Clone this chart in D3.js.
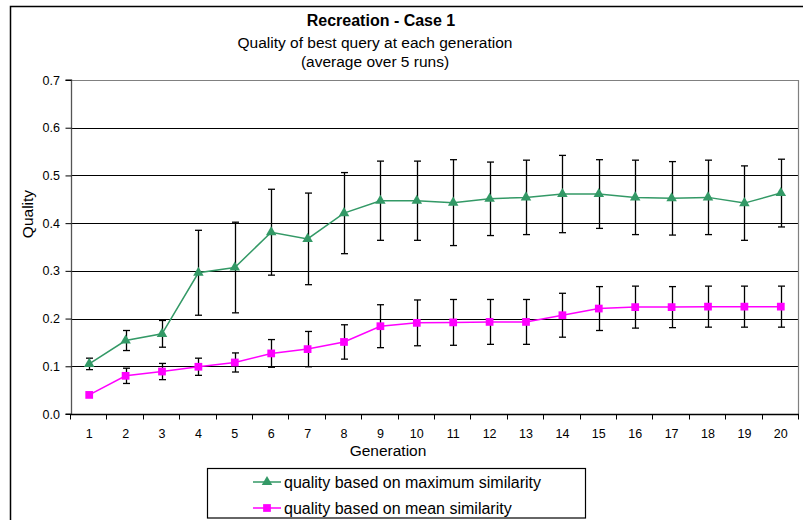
<!DOCTYPE html>
<html>
<head>
<meta charset="utf-8">
<script src="https://cdn.jsdelivr.net/npm/d3@7/dist/d3.min.js"></script>
<style>
  html, body { margin: 0; padding: 0; background: #fff; }
  svg { display: block; font-family: "Liberation Sans", Arial, sans-serif; }
</style>
</head>
<body>
<svg id="chart" width="803" height="520"></svg>
<script>
// Generations on the x axis
const generations = ["1","2","3","4","5","6","7","8","9","10","11","12","13","14","15","16","17","18","19","20"];

// Quality based on maximum similarity (mean over 5 runs) and its error
const maxQuality = [0.105, 0.154, 0.168, 0.296, 0.307, 0.381, 0.367, 0.421, 0.447, 0.447,
                    0.443, 0.451, 0.454, 0.461, 0.461, 0.454, 0.452, 0.454, 0.442, 0.463];
const maxError   = [0.012, 0.021, 0.028, 0.089, 0.095, 0.090, 0.096, 0.085, 0.083, 0.083,
                    0.090, 0.077, 0.078, 0.081, 0.072, 0.078, 0.077, 0.078, 0.078, 0.071];

// Quality based on mean similarity (mean over 5 runs) and its error
const meanQuality = [0.040, 0.080, 0.089, 0.099, 0.108, 0.127, 0.136, 0.151, 0.184, 0.191,
                     0.192, 0.193, 0.193, 0.207, 0.221, 0.224, 0.224, 0.225, 0.225, 0.225];
const meanError   = [0.000, 0.016, 0.017, 0.018, 0.020, 0.029, 0.037, 0.036, 0.045, 0.048,
                     0.048, 0.047, 0.047, 0.046, 0.046, 0.044, 0.043, 0.043, 0.043, 0.043];

// Y axis tick values
const yTicks = [0.0, 0.1, 0.2, 0.3, 0.4, 0.5, 0.6, 0.7];

const titleLines = ["Recreation - Case 1", "Quality of best query at each generation", "(average over 5 runs)"];
const seriesNames = ["quality based on maximum similarity", "quality based on mean similarity"];

const GREEN = "#339966";
const MAGENTA = "#ff00ff";

const svg = d3.select("#chart");

// Chart area frame
svg.append("rect")
  .attr("x", 10.5).attr("y", 6.5)
  .attr("width", 820).attr("height", 540)
  .attr("fill", "none").attr("stroke", "#000").attr("stroke-width", 1.5);

// Titles
const titleX = [381, 375, 375];
const titleY = [26, 48, 66.5];
titleLines.forEach((t, i) => {
  svg.append("text")
    .attr("x", titleX[i]).attr("y", titleY[i])
    .attr("text-anchor", "middle")
    .attr("font-size", i === 0 ? 16 : 15.5)
    .attr("font-weight", i === 0 ? "bold" : "normal")
    .attr("fill", "#000")
    .text(t);
});

// Plot area
const plot = { left: 71, right: 799, top: 80, bottom: 414 };

const x = d3.scaleBand().domain(generations).range([plot.left, plot.right]);
const y = d3.scaleLinear().domain([0, 0.7]).range([plot.bottom, plot.top]);

// Horizontal gridlines
svg.append("g")
  .selectAll("line")
  .data(yTicks.filter(v => v > 0 && v < 0.7))
  .join("line")
  .attr("x1", plot.left).attr("x2", plot.right)
  .attr("y1", d => Math.round(y(d)) + 0.5).attr("y2", d => Math.round(y(d)) + 0.5)
  .attr("stroke", "#000").attr("stroke-width", 1);

// Plot area border (top and right)
svg.append("path")
  .attr("d", `M${plot.left},${plot.top + 0.5}H${plot.right - 0.5}V${plot.bottom}`)
  .attr("fill", "none").attr("stroke", "#808080").attr("stroke-width", 1.2);

// Y axis
const yAxis = svg.append("g")
  .attr("transform", `translate(${plot.left + 0.5},0)`)
  .call(d3.axisLeft(y).tickValues(yTicks).tickFormat(d3.format(".1f")).tickSize(6).tickPadding(5.5));
yAxis.select(".domain").attr("stroke", "#555").attr("stroke-width", 1.3).attr("d", `M-6,${y(0.7)}H0V${y(0)}H-6`);
yAxis.selectAll(".tick line").attr("stroke", "#000");
yAxis.selectAll(".tick text").attr("font-size", 12.5).attr("fill", "#000")
  .attr("font-family", "'Liberation Sans', Arial, sans-serif");

// X axis: labels centred in each category, tick marks between categories
const xAxis = svg.append("g")
  .attr("transform", `translate(0,${plot.bottom + 0.5})`)
  .call(d3.axisBottom(x).tickSize(0).tickPadding(14.5));
xAxis.select(".domain").attr("stroke", "#000").attr("stroke-width", 1.3)
  .attr("d", `M${plot.left},0H${plot.right}`);
xAxis.selectAll(".tick text").attr("font-size", 12.5).attr("fill", "#000")
  .attr("font-family", "'Liberation Sans', Arial, sans-serif");
const boundaries = generations.map(g => x(g)).concat([x.range()[1]]);
xAxis.append("g")
  .selectAll("line")
  .data(boundaries)
  .join("line")
  .attr("x1", d => Math.round(d) - 0.5).attr("x2", d => Math.round(d) - 0.5)
  .attr("y1", 0).attr("y2", 5)
  .attr("stroke", "#000").attr("stroke-width", 1);

// Axis titles
svg.append("text")
  .attr("x", 388).attr("y", 456)
  .attr("text-anchor", "middle").attr("font-size", 15.5).attr("fill", "#000")
  .text("Generation");
svg.append("text")
  .attr("transform", "translate(32.5,214) rotate(-90)")
  .attr("text-anchor", "middle").attr("font-size", 15.5).attr("fill", "#000")
  .text("Quality");

const cx = g => x(g) + x.bandwidth() / 2;

function drawSeries(values, errors, color, symbolType, symbolSize) {
  const data = generations.map((g, i) => ({ g, v: values[i], e: errors[i] }));
  const g = svg.append("g");

  // Error bars
  const eb = g.append("g").attr("stroke", "#000").attr("stroke-width", 1.3);
  data.filter(d => d.e > 0).forEach(d => {
    const xc = Math.round(cx(d.g)) + 0.5;
    eb.append("line").attr("x1", xc).attr("x2", xc).attr("y1", y(d.v + d.e)).attr("y2", y(d.v - d.e));
    eb.append("line").attr("x1", xc - 3.5).attr("x2", xc + 3.5).attr("y1", y(d.v + d.e)).attr("y2", y(d.v + d.e));
    eb.append("line").attr("x1", xc - 3.5).attr("x2", xc + 3.5).attr("y1", y(d.v - d.e)).attr("y2", y(d.v - d.e));
  });

  // Connecting line
  g.append("path")
    .datum(data)
    .attr("fill", "none").attr("stroke", color).attr("stroke-width", 1.5)
    .attr("d", d3.line().x(d => cx(d.g)).y(d => y(d.v)));

  // Markers
  g.selectAll(".marker")
    .data(data)
    .join("path")
    .attr("class", "marker")
    .attr("transform", d => `translate(${cx(d.g)},${y(d.v)})`)
    .attr("d", d3.symbol().type(symbolType).size(symbolSize))
    .attr("fill", color);
}

drawSeries(maxQuality, maxError, GREEN, d3.symbolTriangle, 48);
drawSeries(meanQuality, meanError, MAGENTA, d3.symbolSquare, 60);

// Legend
const legend = { x: 207, y: 468, w: 378, h: 52 };
svg.append("rect")
  .attr("x", legend.x + 0.5).attr("y", legend.y + 0.5)
  .attr("width", legend.w).attr("height", 49.5)
  .attr("fill", "#fff").attr("stroke", "#000").attr("stroke-width", 1.2);

const legendRows = [
  { name: seriesNames[0], color: GREEN, type: d3.symbolTriangle, size: 48, cy: 482 },
  { name: seriesNames[1], color: MAGENTA, type: d3.symbolSquare, size: 60, cy: 508 }
];
legendRows.forEach(r => {
  svg.append("line")
    .attr("x1", 253).attr("x2", 281).attr("y1", r.cy).attr("y2", r.cy)
    .attr("stroke", r.color).attr("stroke-width", 1.5);
  svg.append("path")
    .attr("transform", `translate(267,${r.cy})`)
    .attr("d", d3.symbol().type(r.type).size(r.size))
    .attr("fill", r.color);
  svg.append("text")
    .attr("x", 284).attr("y", r.cy + 5.5)
    .attr("font-size", 16).attr("fill", "#000")
    .text(r.name);
});
</script>
</body>
</html>
